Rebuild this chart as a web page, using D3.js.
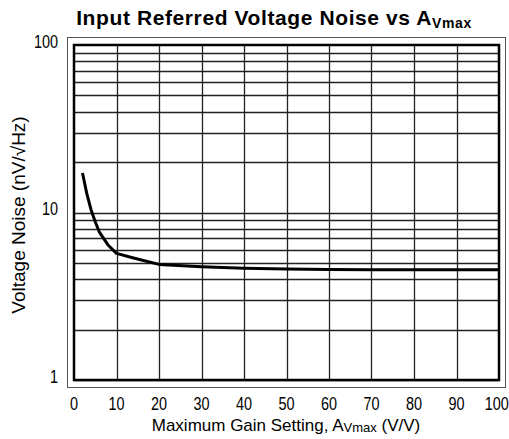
<!DOCTYPE html>
<html>
<head>
<meta charset="utf-8">
<script src="https://cdn.jsdelivr.net/npm/d3@7"></script>
<style>
  body { margin: 0; background: #fff; }
  text { font-family: "Liberation Sans", Arial, sans-serif; }
</style>
</head>
<body>
<div id="container"></div>
<script>
// gain setting (V/V) vs noise (nV/rtHz)
var gain = [2, 3, 4, 5, 6, 8, 10, 14, 20, 30, 40, 50, 60, 70, 80, 90, 100];
var noise = [17.2, 13.0, 10.4, 8.8, 7.6, 6.4, 5.7, 5.35, 4.9, 4.75, 4.65, 4.6, 4.57, 4.55, 4.55, 4.55, 4.55];
var xTicks = [0, 10, 20, 30, 40, 50, 60, 70, 80, 90, 100];
var yTicks = [1, 10, 100];

var width = 509, height = 439;
var pLeft = 74, pRight = 499, pTop = 45, pBottom = 380;
var sx = 0.76; // narrow-ish digits like the original

var svg = d3.select("#container").append("svg")
  .attr("width", width)
  .attr("height", height);

var x = d3.scaleLinear().domain([0, 100]).range([pLeft, pRight]);
var y = d3.scaleLog().domain([1, 100]).range([pBottom, pTop]);

// outer frame
svg.append("rect")
  .attr("x", 67.5).attr("y", 37.5)
  .attr("width", 438).attr("height", 350)
  .attr("fill", "none").attr("stroke", "#555").attr("stroke-width", 1);

// horizontal grid (log minors)
var hLines = [];
[1, 10].forEach(function(d) { for (var k = 1; k < 10; k++) hLines.push(d * k); });
svg.selectAll(".hgrid").data(hLines).enter().append("line")
  .attr("x1", pLeft).attr("x2", pRight)
  .attr("y1", function(d) { return Math.round(y(d)) + 0.5; })
  .attr("y2", function(d) { return Math.round(y(d)) + 0.5; })
  .attr("stroke", "#222").attr("stroke-width", 1.3);

// vertical grid
svg.selectAll(".vgrid").data(xTicks.slice(1, -1)).enter().append("line")
  .attr("y1", pTop).attr("y2", pBottom)
  .attr("x1", function(d) { return Math.round(x(d)) + 0.5; })
  .attr("x2", function(d) { return Math.round(x(d)) + 0.5; })
  .attr("stroke", "#222").attr("stroke-width", 1.3);

// inner frame
svg.append("rect")
  .attr("x", pLeft).attr("y", pTop)
  .attr("width", pRight - pLeft).attr("height", pBottom - pTop)
  .attr("fill", "none").attr("stroke", "#000").attr("stroke-width", 2.5);

// curve
var line = d3.line()
  .x(function(d, i) { return x(gain[i]); })
  .y(function(d) { return y(d); });
svg.append("path")
  .attr("d", line(noise))
  .attr("fill", "none").attr("stroke", "#000").attr("stroke-width", 3)
  .attr("stroke-linejoin", "round");

// tick labels
svg.selectAll(".xt").data(xTicks).enter().append("text")
  .attr("x", function(d) { return x(d); })
  .attr("y", 410)
  .attr("dx", function(d, i) { return i == xTicks.length - 1 ? -3 : 0; })
  .attr("text-anchor", "middle")
  .attr("font-size", 19)
  .attr("transform", function(d) { return "translate(" + (x(d) * (1 - sx)) + ",0) scale(" + sx + ",1)"; })
  .text(function(d) { return d; });

svg.selectAll(".yt").data(yTicks).enter().append("text")
  .attr("x", 58)
  .attr("y", function(d) { return y(d) + 3; })
  .attr("text-anchor", "end")
  .attr("font-size", 19)
  .attr("transform", "translate(" + (58 * (1 - sx)) + ",0) scale(" + sx + ",1)")
  .text(function(d) { return d; });

// title
var title = svg.append("text")
  .attr("x", 274).attr("y", 25)
  .attr("text-anchor", "middle")
  .attr("font-size", 21).attr("font-weight", "bold")
  .attr("letter-spacing", "0.6");
title.append("tspan").text("Input Referred Voltage Noise vs A");
title.append("tspan").attr("font-size", 14).attr("dy", 3).text("Vmax");

// axis titles
var xt = svg.append("text")
  .attr("x", 286).attr("y", 431)
  .attr("text-anchor", "middle")
  .attr("font-size", 17);
xt.append("tspan").text("Maximum Gain Setting, A");
xt.append("tspan").attr("font-size", 13).attr("dy", 1).text("Vmax");
xt.append("tspan").attr("dy", -1).text(" (V/V)");

svg.append("text")
  .attr("transform", "translate(25,215) rotate(-90)")
  .attr("text-anchor", "middle")
  .attr("font-size", 19)
  .text("Voltage Noise (nV/\u221AHz)");
</script>
</body>
</html>
